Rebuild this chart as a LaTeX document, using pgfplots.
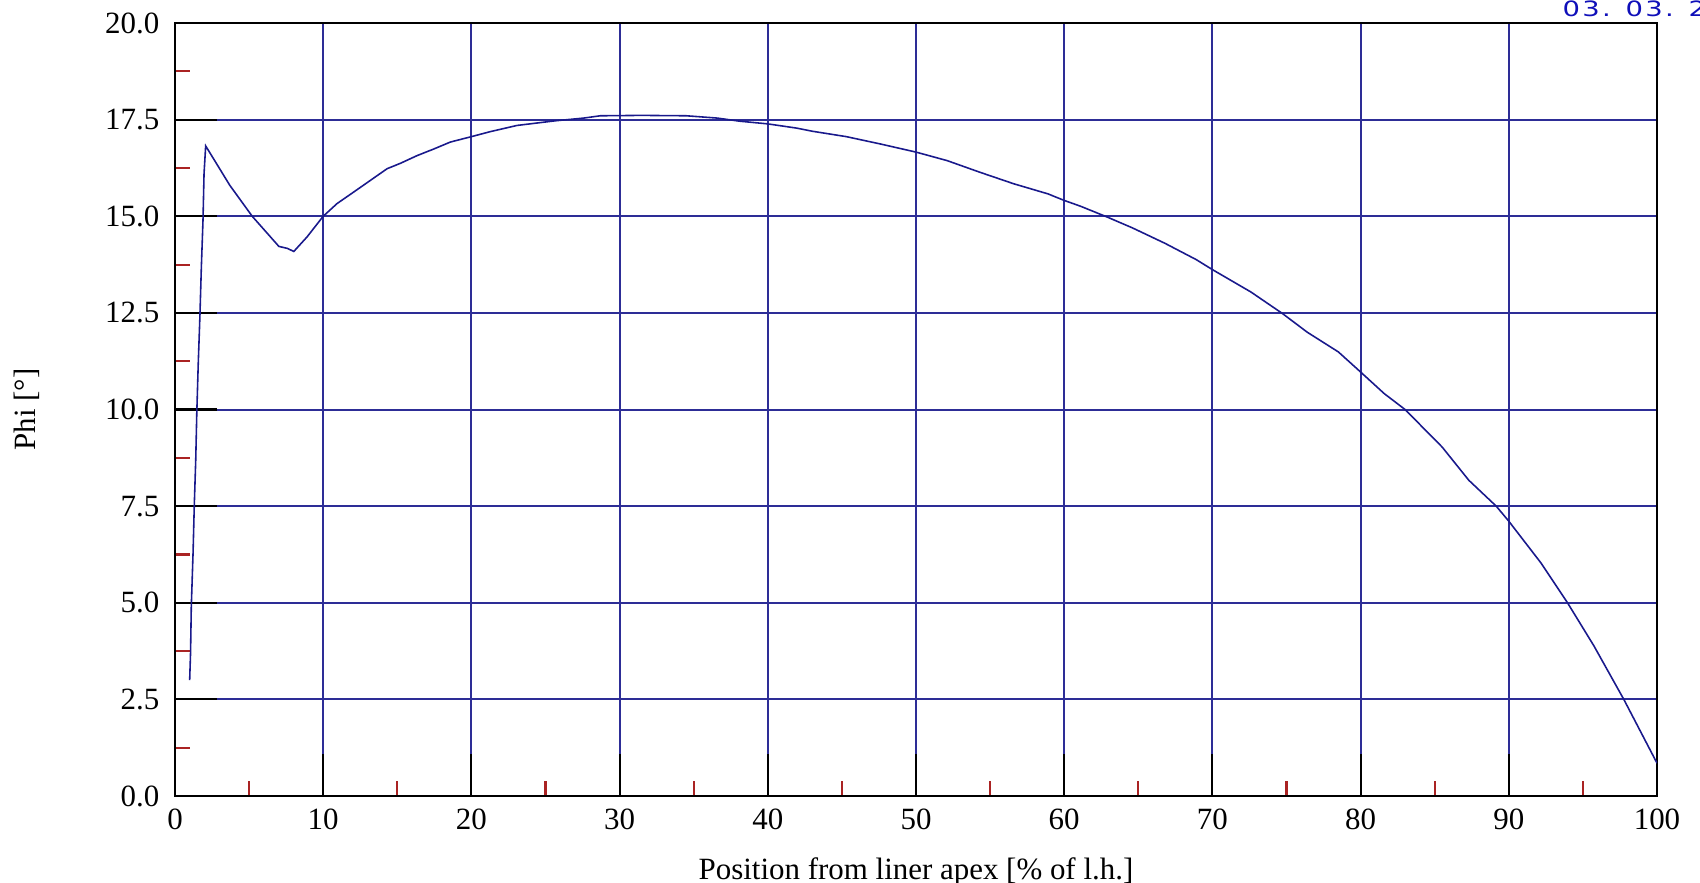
\documentclass[border=0pt]{standalone}
\usepackage{fontspec}
\setmainfont{Liberation Serif}
\newfontfamily\datefont[FakeStretch=1.3, LetterSpace=11]{DejaVu Sans}
\usepackage{pgfplots}
\pgfplotsset{compat=1.18}
\definecolor{gridblue}{RGB}{45,45,150}
\definecolor{curveblue}{RGB}{25,25,140}
\definecolor{tickred}{RGB}{170,35,35}
\definecolor{dateblue}{RGB}{15,15,185}

\begin{document}
\begin{tikzpicture}
\useasboundingbox (-17.5mm,-8.6mm) rectangle (152.5mm,79.6mm);
\begin{axis}[
  at={(0,0)}, anchor=south west,
  width=148.2mm, height=77.3mm, scale only axis,
  xmin=0, xmax=100, ymin=0, ymax=20,
  xtick={0,10,20,30,40,50,60,70,80,90,100},
  ytick={0,2.5,5,7.5,10,12.5,15,17.5,20},
  minor xtick={5,15,25,35,45,55,65,75,85,95},
  minor ytick={1.25,3.75,6.25,8.75,11.25,13.75,16.25,18.75},
  tick pos=left, tick align=inside,
  major tick length=4.2mm, minor tick length=1.5mm,
  major tick style={black, line width=0.6pt},
  minor tick style={tickred, line width=0.6pt},
  grid=major, major grid style={gridblue, line width=0.57pt},
  axis line style={black, line width=0.6pt},
  /pgf/number format/assume math mode=true,
  ticklabel style={font=\fontsize{8.8}{10}\selectfont},
  xticklabel style={anchor=north, inner sep=0pt, yshift=-1.2mm},
  yticklabel style={anchor=east, inner sep=0pt, xshift=-1.5mm,
    /pgf/number format/fixed, /pgf/number format/fixed zerofill,
    /pgf/number format/precision=1},
  label style={font=\fontsize{8.8}{10}\selectfont},
  xlabel={Position from liner apex [\% of l.h.]},
  xlabel style={at={(axis description cs:0.5,-0.1074)}, anchor=base, inner sep=0pt},
  ylabel={Phi [°]},
  ylabel style={at={(axis description cs:-0.0938,0.5)}, anchor=base, inner sep=0pt},
]
% Phi along the liner
\addplot[curveblue, line width=0.45pt] coordinates {
  (0.99,3.0)(1.05,3.7)(1.10,4.9)(1.22,6.3)(1.30,7.5)(1.40,8.7)(1.47,9.9)
  (1.57,11.2)(1.68,12.4)(1.78,13.7)(1.89,14.9)(1.96,16.1)(2.07,16.82)
  (3.7,15.8)(5.21,15.0)(7.01,14.22)(7.57,14.17)(8.02,14.09)(8.92,14.47)
  (10.0,15.0)(10.94,15.33)(12.07,15.63)(13.19,15.93)(14.31,16.23)(15.21,16.37)
  (16.34,16.57)(17.46,16.74)(18.58,16.92)(20.0,17.06)(21.28,17.19)(23.08,17.35)
  (25.66,17.47)(27.57,17.54)(28.7,17.6)(31.5,17.61)(34.5,17.6)(36.6,17.54)
  (38.1,17.46)(40.0,17.39)(41.96,17.28)(43.0,17.2)(45.3,17.06)(47.6,16.87)
  (50.0,16.66)(52.1,16.44)(54.3,16.14)(56.6,15.84)(58.9,15.58)(60.0,15.41)
  (61.1,15.26)(62.9,14.98)(64.6,14.7)(66.8,14.30)(68.9,13.88)(70.0,13.62)
  (72.6,13.04)(74.74,12.48)(76.4,12.0)(78.5,11.49)(80.0,10.97)(81.6,10.41)
  (83.0,10.0)(85.5,9.03)(87.3,8.17)(89.15,7.5)(90.0,7.11)(92.17,6.03)
  (93.96,5.0)(95.75,3.88)(97.76,2.5)(100,0.85)};
\end{axis}
\node[anchor=base west, inner sep=0pt, text=dateblue,
  font=\datefont\fontsize{6}{7}\selectfont] at (138.7mm,77.93mm) {03. 03. 20};
\end{tikzpicture}
\end{document}
